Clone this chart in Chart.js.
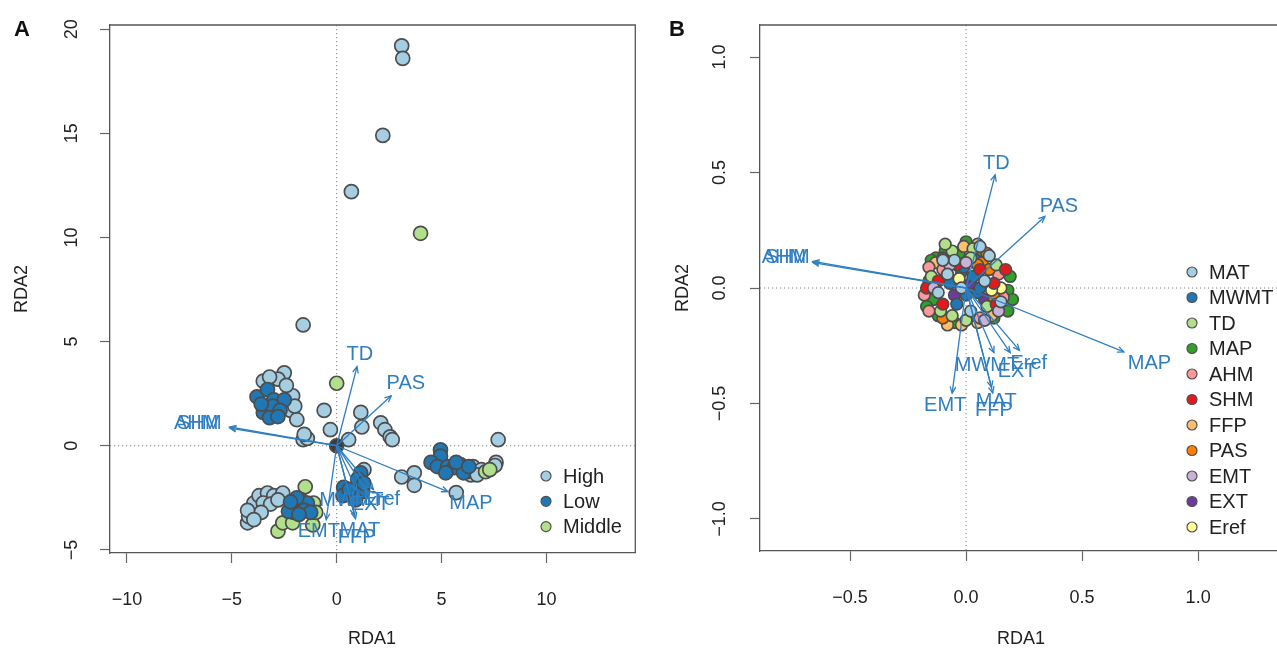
<!DOCTYPE html>
<html>
<head>
<style>
  html, body { margin: 0; padding: 0; background: #fff; overflow: hidden; }
  #wrapA { position: absolute; left: 0; top: 0; width: 644px; height: 650px; }
  #wrapB { position: absolute; left: 640px; top: 0; width: 645px; height: 650px; }
</style>
</head>
<body>
<div id="wrapA"><canvas id="chartA"></canvas></div>
<div id="wrapB"><canvas id="chartB"></canvas></div>
<script src="https://cdn.jsdelivr.net/npm/chart.js@4/dist/chart.umd.min.js"></script>
<script>
// ---- data: panel A (site scores by group) ----
const aHigh = [
  [3.1, 19.2], [3.15, 18.6], [2.2, 14.9], [0.7, 12.2], [-1.6, 5.8],
  [-2.5, 3.5], [-3.5, 3.1], [-2.8, 3.2], [-2.1, 2.4], [-2.2, 1.7], [-1.9, 1.25], [-3.2, 3.3], [-2.4, 2.9], [-2.0, 1.9],
  [-0.6, 1.7], [-0.3, 0.77], [-1.6, 0.29], [-1.4, 0.35], [-1.55, 0.55],
  [0.57, 0.29], [1.15, 1.6], [1.2, 0.9], [2.1, 1.1], [2.3, 0.77], [2.55, 0.43], [2.65, 0.29], [7.7, 0.29],
  [6.5, -1.0], [6.9, -1.15], [6.4, -1.4], [7.6, -0.8], [7.55, -0.95], [6.2, -1.25], [6.7, -1.4],
  [3.1, -1.5], [3.7, -1.3], [3.7, -1.9], [5.7, -2.25],
  [-4.25, -3.7], [-4.2, -3.4], [-3.95, -2.75], [-3.7, -2.4], [-3.3, -2.27], [-3.0, -2.4], [-2.57, -2.27],
  [-3.5, -2.75], [-3.15, -2.8], [-3.6, -3.2], [-4.25, -3.1], [-3.95, -3.55], [-2.8, -2.6],
  [1.3, -1.15]
];
const aLow = [
  [-3.8, 2.35], [-3.3, 2.7], [-3.0, 2.2], [-2.5, 2.2], [-3.5, 1.6], [-3.05, 1.9], [-3.2, 1.35], [-2.7, 1.7], [-3.6, 2.0], [-2.8, 1.4],
  [4.95, -0.2], [4.95, -0.5], [4.5, -0.8], [4.8, -1.0], [5.3, -1.0], [5.9, -0.9], [5.6, -1.05], [6.05, -1.3], [5.2, -1.3], [5.7, -0.8], [6.3, -1.0],
  [1.14, -1.3], [0.33, -2.0], [1.0, -1.6], [0.76, -2.35], [1.24, -2.2], [0.3, -2.4], [0.9, -2.6], [1.3, -1.8], [0.6, -2.1],
  [-2.05, -2.83], [-1.7, -2.6], [-1.4, -2.75], [-1.55, -3.1], [-2.05, -3.2], [-2.3, -3.15], [-1.24, -3.2], [-1.8, -3.3], [-1.9, -2.5], [-2.2, -2.7]
];
const aMiddle = [
  [4.0, 10.2], [0.0, 3.0], [7.1, -1.25], [7.3, -1.15], [-1.5, -1.97], [-1.1, -2.75],
  [-2.8, -4.1], [-2.57, -3.7], [-2.1, -3.7], [-1.14, -3.8], [-1.0, -3.2]
];
const aOrigin = [[0, 0]];
const aGroups = ['High', 'Low', 'Middle'];

// ---- data: environmental vectors ----
const envNames = ['MAT', 'MWMT', 'TD', 'MAP', 'AHM', 'SHM', 'FFP', 'PAS', 'EMT', 'EXT', 'Eref'];
const aTipX = [0.9, 0.95, 0.97, 5.3, -5.1, -5.1, 0.85, 2.6, -0.5, 1.45, 1.75];
const aTipY = [-3.5, -2.15, 3.8, -2.2, 0.9, 0.85, -3.35, 2.4, -3.55, -2.2, -2.1];
const aLabX = [1.1, 0.7, 1.1, 6.4, -6.7, -6.55, 0.95, 3.3, -0.85, 1.6, 2.15];
const aLabY = [-4.05, -2.65, 4.4, -2.75, 1.05, 1.05, -4.4, 3.0, -4.1, -2.8, -2.6];

const bTipX = [0.115, 0.12, 0.125, 0.68, -0.66, -0.66, 0.11, 0.34, -0.06, 0.19, 0.23];
const bTipY = [-0.455, -0.28, 0.49, -0.277, 0.115, 0.11, -0.43, 0.31, -0.455, -0.28, -0.27];
const bLabX = [0.13, 0.09, 0.13, 0.79, -0.785, -0.77, 0.12, 0.4, -0.09, 0.22, 0.27];
const bLabY = [-0.49, -0.335, 0.54, -0.325, 0.13, 0.13, -0.53, 0.355, -0.51, -0.36, -0.325];

// ---- data: panel B (site scores by variable) ----
const bMAT  = [[-0.05, 0.12], [0.08, 0.03], [-0.12, -0.02], [0.02, -0.1], [0.1, 0.14], [-0.02, 0.0], [0.15, -0.06], [-0.08, 0.06], [0.06, 0.18], [-0.1, 0.12]];
const bMWMT = [[-0.02, 0.07], [0.03, 0.05], [-0.07, 0.02], [0.0, -0.03], [0.05, -0.02], [-0.04, -0.07], [0.04, 0.12], [0.02, -0.12], [-0.01, 0.09], [0.06, 0.0]];
const bTD   = [[-0.06, 0.16], [0.03, 0.17], [-0.11, -0.1], [-0.06, -0.12], [0.09, -0.08], [-0.15, 0.05], [0.13, 0.1], [0.0, -0.14], [-0.09, 0.19], [0.02, 0.13]];
const bMAP  = [[-0.13, 0.13], [-0.09, 0.16], [-0.16, 0.03], [-0.14, -0.05], [0.18, -0.01], [0.16, -0.09], [-0.03, 0.15], [0.07, 0.16], [0.19, 0.05],
               [-0.17, -0.08], [-0.12, -0.12], [0.2, -0.05], [0.12, -0.13], [-0.15, 0.12], [0.0, 0.2], [0.18, -0.1], [-0.05, -0.15]];
const bAHM  = [[-0.18, -0.03], [-0.16, 0.09], [0.14, 0.06], [0.06, -0.13], [-0.1, 0.08], [0.16, -0.04], [-0.16, -0.1]];
const bSHM  = [[-0.12, 0.03], [0.12, 0.02], [0.17, 0.08], [-0.1, -0.07], [0.06, 0.08], [-0.04, 0.1], [-0.17, 0.0], [0.13, -0.07]];
const bFFP  = [[-0.01, 0.18], [0.05, -0.15], [-0.08, -0.16], [0.11, -0.12], [-0.13, 0.11], [0.09, 0.11], [0.05, 0.19], [-0.02, -0.16]];
const bPAS  = [[0.07, 0.11], [0.1, 0.08], [-0.1, -0.13], [0.12, -0.04], [0.05, 0.1], [0.09, 0.15]];
const bEMT  = [[-0.07, 0.1], [0.0, 0.11], [0.14, -0.1], [-0.14, 0.0], [0.08, -0.14]];
const bEXT  = [[0.02, 0.02], [-0.05, -0.03], [0.08, -0.05], [-0.1, 0.13]];
const bEref = [[0.15, 0.0], [0.11, -0.01], [-0.03, 0.04]];

// ---- axis ticks ----
const aXTicks = [-10, -5, 0, 5, 10];
const aXTickLabels = ['\u221210', '\u22125', '0', '5', '10'];
const aYTicks = [-5, 0, 5, 10, 15, 20];
const aYTickLabels = ['\u22125', '0', '5', '10', '15', '20'];
const bXTicks = [-0.5, 0, 0.5, 1.0];
const bXTickLabels = ['\u22120.5', '0.0', '0.5', '1.0'];
const bYTicks = [-1.0, -0.5, 0, 0.5, 1.0];
const bYTickLabels = ['\u22121.0', '\u22120.5', '0.0', '0.5', '1.0'];

// ---- styles ----
const FONT = "'Liberation Sans', Arial, Helvetica, sans-serif";
const arrowCol = '#2f7ec0';
const groupCols = ['#a6cee3', '#1f78b4', '#b2df8a'];
const envCols = ['#a6cee3', '#1f78b4', '#b2df8a', '#33a02c', '#fb9a99', '#e31a1c',
                 '#fdbf6f', '#ff7f00', '#cab2d6', '#6a3d9a', '#ffff99'];

const toXY = arr => arr.map(p => ({ x: p[0], y: p[1] }));

function arrowSets(tx, ty, lx, ly) {
  return envNames.map((n, i) => ({
    label: n,
    data: [{ x: 0, y: 0 }, { x: tx[i], y: ty[i] }],
    showLine: true,
    borderColor: arrowCol,
    borderWidth: 1.3,
    pointRadius: 0,
    order: 0,
    isArrow: true,
    labelPos: [lx[i], ly[i]]
  }));
}

function pointSet(label, arr, color, radius, order, inLegend) {
  return {
    label: label,
    data: toXY(arr),
    backgroundColor: color,
    borderColor: '#4d4d4d',
    borderWidth: 1.7,
    pointRadius: radius,
    pointHoverRadius: radius,
    order: order,
    inLegend: inLegend
  };
}

// draws frame, zero lines, arrowheads, vector labels, rotated y labels, titles, legend
const decoPlugin = {
  id: 'deco',
  beforeDatasetsDraw(chart, args, o) {
    const { ctx, chartArea: a, scales: { x, y } } = chart;
    ctx.save();
    ctx.strokeStyle = '#808080';
    ctx.lineWidth = 1;
    ctx.setLineDash([1.2, 2.8]);
    const x0 = x.getPixelForValue(0), y0 = y.getPixelForValue(0);
    ctx.beginPath();
    ctx.moveTo(x0, a.top); ctx.lineTo(x0, a.bottom);
    ctx.moveTo(a.left, y0); ctx.lineTo(a.right, y0);
    ctx.stroke();
    ctx.restore();
  },
  afterDatasetsDraw(chart, args, o) {
    const { ctx, scales: { x, y } } = chart;
    ctx.save();
    chart.data.datasets.forEach((ds, i) => {
      if (!ds.isArrow) return;
      const pts = chart.getDatasetMeta(i).data;
      const p0 = pts[0], p1 = pts[1];
      const ang = Math.atan2(p1.y - p0.y, p1.x - p0.x);
      const hl = 7, hw = 0.42;
      ctx.strokeStyle = arrowCol;
      ctx.lineWidth = 1.3;
      ctx.beginPath();
      ctx.moveTo(p1.x - hl * Math.cos(ang - hw), p1.y - hl * Math.sin(ang - hw));
      ctx.lineTo(p1.x, p1.y);
      ctx.lineTo(p1.x - hl * Math.cos(ang + hw), p1.y - hl * Math.sin(ang + hw));
      ctx.stroke();
    });
    ctx.font = '20px ' + FONT;
    ctx.fillStyle = arrowCol;
    ctx.textAlign = 'center';
    ctx.textBaseline = 'middle';
    chart.data.datasets.forEach(ds => {
      if (!ds.isArrow) return;
      ctx.fillText(ds.label, x.getPixelForValue(ds.labelPos[0]), y.getPixelForValue(ds.labelPos[1]));
    });
    ctx.restore();
  },
  afterDraw(chart, args, o) {
    const { ctx, chartArea: a, scales: { x, y } } = chart;
    ctx.save();
    // top / right frame
    ctx.strokeStyle = '#555';
    ctx.lineWidth = 1.3;
    ctx.beginPath();
    ctx.moveTo(a.left, a.top); ctx.lineTo(a.right, a.top);
    if (o.rightFrame) ctx.lineTo(a.right, a.bottom);
    ctx.stroke();
    // rotated y tick labels
    ctx.fillStyle = '#222';
    ctx.font = '18px ' + FONT;
    ctx.textAlign = 'center';
    ctx.textBaseline = 'middle';
    y.ticks.forEach(t => {
      const idx = o.yTicks.indexOf(t.value);
      if (idx < 0) return;
      ctx.save();
      ctx.translate(o.yLabelX, y.getPixelForValue(t.value));
      ctx.rotate(-Math.PI / 2);
      ctx.fillText(o.yTickLabels[idx], 0, 0);
      ctx.restore();
    });
    // axis titles
    ctx.fillText(o.xTitle, o.xTitleX, o.xTitleY);
    ctx.save();
    ctx.translate(o.yTitleX, (a.top + a.bottom) / 2);
    ctx.rotate(-Math.PI / 2);
    ctx.fillText(o.yTitle, 0, 0);
    ctx.restore();
    // panel letter
    ctx.font = 'bold 22px ' + FONT;
    ctx.fillStyle = '#111';
    ctx.fillText(o.letter, o.letterX, o.letterY);
    // legend
    ctx.font = '20px ' + FONT;
    ctx.textAlign = 'left';
    let row = 0;
    chart.data.datasets.forEach(ds => {
      if (!ds.inLegend) return;
      const cy = o.legY + row * o.legStep;
      ctx.beginPath();
      ctx.arc(o.legX, cy, 5, 0, Math.PI * 2);
      ctx.fillStyle = ds.backgroundColor;
      ctx.fill();
      ctx.lineWidth = 1.2;
      ctx.strokeStyle = '#505050';
      ctx.stroke();
      ctx.fillStyle = '#222';
      ctx.fillText(ds.label, o.legX + 17, cy + 1);
      row++;
    });
    ctx.restore();
  }
};

function makeScales(xr, yr, xTicks, xLabels, yTicks, yWidth, xHeight) {
  const grid = { drawOnChartArea: false, drawTicks: true, tickLength: 10, tickColor: '#666', tickWidth: 1.2 };
  const border = { display: true, color: '#555', width: 1.3 };
  return {
    x: {
      type: 'linear', min: xr[0], max: xr[1],
      afterBuildTicks: s => { s.ticks = xTicks.map(v => ({ value: v })); },
      afterFit: s => { s.height = xHeight; },
      ticks: {
        font: { family: FONT, size: 18 }, color: '#222', padding: 26, maxRotation: 0,
        callback: v => { const i = xTicks.indexOf(v); return i < 0 ? '' : xLabels[i]; }
      },
      grid: grid, border: border
    },
    y: {
      type: 'linear', min: yr[0], max: yr[1],
      afterBuildTicks: s => { s.ticks = yTicks.map(v => ({ value: v })); },
      afterFit: s => { s.width = yWidth; },
      ticks: { display: false },
      grid: grid, border: border
    }
  };
}

function baseOptions() {
  return {
    responsive: true,
    maintainAspectRatio: false,
    animation: false,
    events: [],
    plugins: { legend: { display: false }, tooltip: { enabled: false } }
  };
}

// ---- panel A ----
const dsA = arrowSets(aTipX, aTipY, aLabX, aLabY).concat([
  pointSet('origin', aOrigin, '#3c3c3c', 7, 0.5, false),
  pointSet(aGroups[0], aHigh, groupCols[0], 7, 3, true),
  pointSet(aGroups[1], aLow, groupCols[1], 7, 1, true),
  pointSet(aGroups[2], aMiddle, groupCols[2], 7, 2, true)
]);
const optA = baseOptions();
optA.layout = { padding: { top: 25, right: 0, left: 0, bottom: 0 } };
optA.scales = makeScales([-10.81, 14.24], [-5.15, 20.2], aXTicks, aXTickLabels, aYTicks, 110, 97);
optA.plugins.deco = {
  yTicks: aYTicks, yTickLabels: aYTickLabels, yLabelX: 72,
  xTitle: 'RDA1', xTitleX: 372, xTitleY: 639, yTitle: 'RDA2', yTitleX: 22,
  letter: 'A', letterX: 22, letterY: 30,
  legX: 546, legY: 476, legStep: 25.3, rightFrame: true
};
new Chart(document.getElementById('chartA'), {
  type: 'scatter',
  data: { datasets: dsA },
  options: optA,
  plugins: [decoPlugin]
});

// ---- panel B ----
const bSeries = [bMAT, bMWMT, bTD, bMAP, bAHM, bSHM, bFFP, bPAS, bEMT, bEXT, bEref];
const dsB = arrowSets(bTipX, bTipY, bLabX, bLabY).concat(
  envNames.map((n, i) => pointSet(n, bSeries[i], envCols[i], 5.8, 1 + ((i * 7) % 11), true))
);
const optB = baseOptions();
optB.layout = { padding: { top: 25, right: 0, left: 0, bottom: 0 } };
optB.scales = makeScales([-0.888, 1.342], [-1.139, 1.139], bXTicks, bXTickLabels, bYTicks, 120, 99);
optB.plugins.deco = {
  yTicks: bYTicks, yTickLabels: bYTickLabels, yLabelX: 80,
  xTitle: 'RDA1', xTitleX: 381, xTitleY: 639, yTitle: 'RDA2', yTitleX: 43,
  letter: 'B', letterX: 37, letterY: 30,
  legX: 552, legY: 272, legStep: 25.5, rightFrame: false
};
new Chart(document.getElementById('chartB'), {
  type: 'scatter',
  data: { datasets: dsB },
  options: optB,
  plugins: [decoPlugin]
});
</script>
</body>
</html>
